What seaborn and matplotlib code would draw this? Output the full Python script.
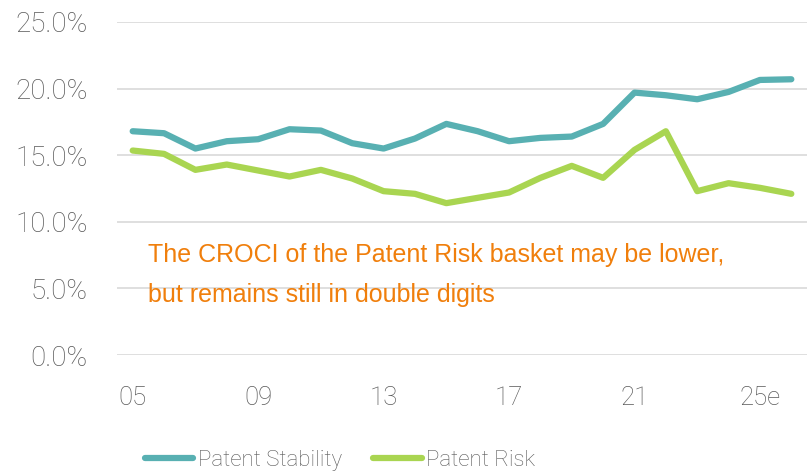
import pandas as pd
import matplotlib.pyplot as plt
import seaborn as sns
from matplotlib.ticker import PercentFormatter

years = ['05', '06', '07', '08', '09', '10', '11', '12', '13', '14', '15',
         '16', '17', '18', '19', '20', '21', '22', '23', '24', '25e', '26e']
stability = [16.8, 16.65, 15.5, 16.05, 16.2, 16.95, 16.85, 15.9, 15.5, 16.25, 17.35,
             16.8, 16.05, 16.3, 16.4, 17.35, 19.7, 19.5, 19.2, 19.75, 20.65, 20.7]
risk = [15.35, 15.1, 13.9, 14.3, 13.85, 13.4, 13.9, 13.25, 12.3, 12.1, 11.4,
        11.8, 12.2, 13.3, 14.2, 13.3, 15.4, 16.8, 12.3, 12.9, 12.55, 12.1]
series = ['Patent Stability', 'Patent Risk']
colors = ['#58B0B2', '#A9D551']
shown_ticks = ['05', '09', '13', '17', '21', '25e']

df = pd.DataFrame({
    'idx': list(range(len(years))) * 2,
    'value': stability + risk,
    'series': [series[0]] * len(years) + [series[1]] * len(years),
})

sns.set_style('white')
plt.rcParams['font.family'] = ['Roboto', 'DejaVu Sans']

fig = plt.figure(figsize=(8.07, 4.73), dpi=100)
ax = fig.add_axes([117 / 807, 1 - 355 / 473, 690 / 807, 333 / 473])

sns.lineplot(data=df, x='idx', y='value', hue='series', palette=colors,
             linewidth=4.5, ax=ax, legend=False, solid_capstyle='round')

ax.set_xlim(-0.5, len(years) - 0.5)
ax.set_ylim(0, 25)
ax.set_yticks([0, 5, 10, 15, 20, 25])
ax.yaxis.set_major_formatter(PercentFormatter(decimals=1))
ax.set_xticks([years.index(t) for t in shown_ticks])
ax.set_xticklabels(shown_ticks)
ax.set_xlabel('')
ax.set_ylabel('')
ax.grid(axis='y', color='#D9D9D9', linewidth=1.2)
ax.set_axisbelow(True)
for s in ax.spines.values():
    s.set_visible(False)
ax.tick_params(axis='both', length=0, labelcolor='#595959')
ax.tick_params(axis='y', pad=21, labelsize=20)
ax.tick_params(axis='x', pad=22, labelsize=18.5)
for lbl in ax.get_yticklabels() + ax.get_xticklabels():
    lbl.set_fontweight('light')

note_font = dict(color='#F07F0C', fontsize=18, family=['Liberation Sans', 'DejaVu Sans'],
                 va='baseline')
fig.text(148 / 807, 1 - 262 / 473, 'The CROCI of the Patent Risk basket may be lower,', **note_font)
fig.text(148 / 807, 1 - 302 / 473, 'but remains still in double digits', **note_font)

handles = [plt.Line2D([], [], color=c, linewidth=4.5, solid_capstyle='round') for c in colors]
leg = fig.legend(handles, series, loc='center', bbox_to_anchor=(340 / 807, 1 - 460 / 473),
                 ncol=2, frameon=False, handlelength=2.2, handletextpad=0.2,
                 columnspacing=1.4, prop={'size': 16, 'weight': 'light'})
for t in leg.get_texts():
    t.set_color('#595959')

fig.savefig('out.png', dpi=100)
